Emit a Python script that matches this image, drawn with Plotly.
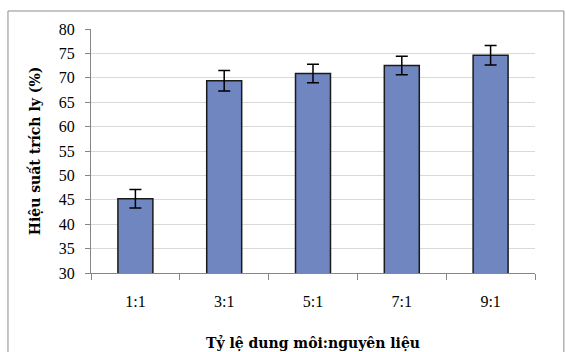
import plotly.graph_objects as go

categories = ["1:1", "3:1", "5:1", "7:1", "9:1"]
values = [45.2, 69.4, 70.9, 72.5, 74.6]
errors = [1.9, 2.1, 1.9, 1.9, 2.0]
y_ticks = [30, 35, 40, 45, 50, 55, 60, 65, 70, 75, 80]

fig = go.Figure()
fig.add_trace(go.Bar(
    x=categories, y=values,
    marker=dict(color="#6F86C1", line=dict(color="#1a1a1a", width=1.5)),
    error_y=dict(type="data", array=errors, visible=True, color="#000000",
                 thickness=1.5, width=6),
))

font_family = "Liberation Serif, Times New Roman, serif"
title_family = "DejaVu Serif, serif"

fig.update_layout(
    width=566, height=352,
    margin=dict(l=91, r=31, t=29, b=79),
    paper_bgcolor="white", plot_bgcolor="white",
    bargap=0.606,
    showlegend=False,
    font=dict(family=font_family, size=16, color="#000000"),
    xaxis=dict(
        type="category",
        showline=True, linecolor="#868686", linewidth=1,
        ticks="outside", tickson="boundaries", ticklen=6, tickcolor="#868686",
        ticklabelstandoff=14,
        tickfont=dict(size=16),
        showgrid=False,
        title=dict(text="<b>Tỷ lệ dung môi:nguyên liệu</b>",
                   font=dict(size=14, family=title_family), standoff=28),
        automargin=False,
    ),
    yaxis=dict(
        range=[30, 80], tickvals=y_ticks,
        showline=True, linecolor="#868686", linewidth=1,
        ticks="outside", ticklen=5, tickcolor="#868686",
        ticklabelstandoff=7,
        tickfont=dict(size=16),
        showgrid=True, gridcolor="#d9d9d9", gridwidth=1,
        zeroline=False,
        title=dict(text="<b>Hiệu suất trích ly (%)</b>",
                   font=dict(size=14, family=title_family), standoff=14),
        automargin=False,
    ),
    shapes=[dict(type="rect", xref="paper", yref="paper",
                 x0=-0.187, x1=1.065, y0=-0.4, y1=1.0738,
                 line=dict(color="#8c8c8c", width=1), layer="below")],
)

fig.write_html("out.html", config={"displayModeBar": False},
               post_script="document.body.style.margin='0';document.body.style.padding='0';")
